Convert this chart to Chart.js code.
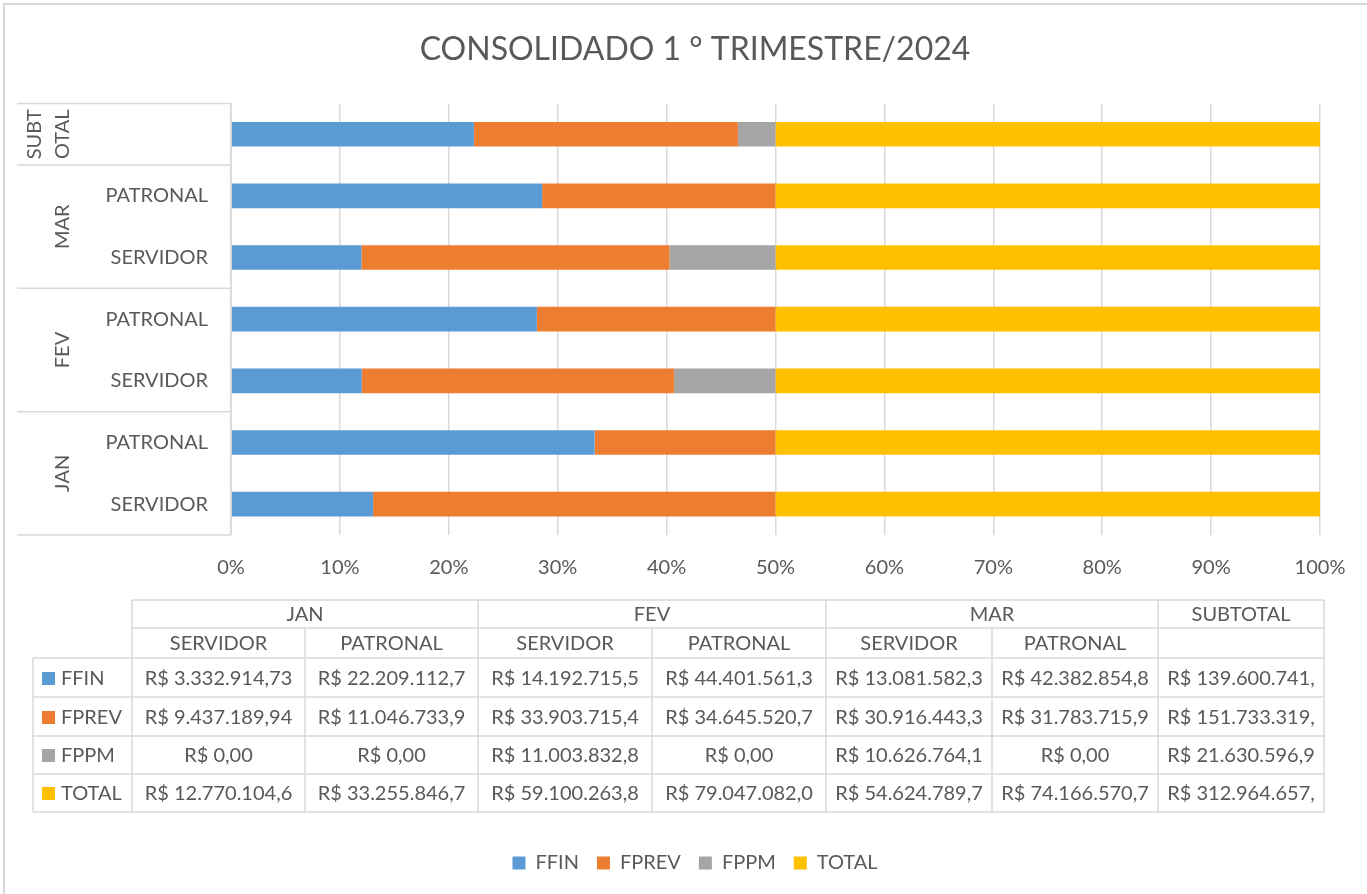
<!DOCTYPE html>
<html>
<head>
<meta charset="utf-8">
<script src="https://cdn.jsdelivr.net/npm/chart.js@4.4.1/dist/chart.umd.min.js"></script>
<style>
  html, body { margin: 0; padding: 0; background: #fff; }
</style>
</head>
<body>
<canvas id="chart" width="1367" height="894"></canvas>
<script>
// data
const months = ['JAN', 'FEV', 'MAR', 'SUBTOTAL'];
const monthSpan = [2, 2, 2, 1];
const subCats = ['SERVIDOR', 'PATRONAL', 'SERVIDOR', 'PATRONAL', 'SERVIDOR', 'PATRONAL', ''];
const ffin  = [3332914.73, 22209112.70, 14192715.50, 44401561.30, 13081582.30, 42382854.80, 139600741.33];
const fprev = [9437189.94, 11046733.90, 33903715.40, 34645520.70, 30916443.30, 31783715.90, 151733319.14];
const fppm  = [0, 0, 11003832.80, 0, 10626764.10, 0, 21630596.90];
const total = [12770104.67, 33255846.70, 59100263.80, 79047082.00, 54624789.70, 74166570.70, 312964657.47];
const seriesNames = ['FFIN', 'FPREV', 'FPPM', 'TOTAL'];
const xTicks = [0, 10, 20, 30, 40, 50, 60, 70, 80, 90, 100];

const colors = ['#5B9BD5', '#ED7D31', '#A5A5A5', '#FFC000'];
const textColor = '#595959';
const lineColor = '#d9d9d9';
const FONT = 'Lato, "Liberation Sans", sans-serif';

const series = [ffin, fprev, fppm, total];
const sums = subCats.map((_, i) => series.reduce((a, s) => a + s[i], 0));
const pct = series.map(s => s.map((v, i) => v / sums[i] * 100));

// table layout (pixels)
const colEdges = [132, 305, 478, 652, 826, 992, 1158, 1324];
const rowEdges = [600, 628, 658, 697, 736, 774, 812];
const labelColLeft = 33;
const padLeft = 70;

function brl(v) {
  const parts = v.toFixed(2).split('.');
  const int = parts[0].replace(/\B(?=(\d{3})+(?!\d))/g, '.');
  return 'R$ ' + int + ',' + parts[1];
}

function hline(ctx, x1, x2, y) {
  ctx.beginPath(); ctx.moveTo(x1, y); ctx.lineTo(x2, y); ctx.stroke();
}
function vline(ctx, x, y1, y2) {
  ctx.beginPath(); ctx.moveTo(x, y1); ctx.lineTo(x, y2); ctx.stroke();
}

const extras = {
  id: 'extras',
  afterDraw(chart) {
    const ctx = chart.ctx;
    const y = chart.scales.y;
    const area = chart.chartArea;
    ctx.save();

    // outer frame
    ctx.strokeStyle = lineColor;
    ctx.lineWidth = 2;
    ctx.strokeRect(4, 4, 1400, 1000);

    // multi level category axis
    ctx.lineWidth = 1.5;
    const px = subCats.map((_, i) => y.getPixelForValue(i));
    const edge = (i) => {
      if (i <= 0) return area.bottom;
      if (i >= subCats.length) return area.top;
      return (px[i - 1] + px[i]) / 2;
    };
    vline(ctx, area.left, area.top, area.bottom);
    let start = 0;
    hline(ctx, 17, area.left, area.bottom);
    ctx.fillStyle = textColor;
    ctx.font = '20px ' + FONT;
    ctx.textAlign = 'center';
    ctx.textBaseline = 'middle';
    months.forEach((m, g) => {
      const end = start + monthSpan[g];
      const yTop = edge(end);
      const yBot = edge(start);
      hline(ctx, 17, area.left, yTop);
      const cy = (yTop + yBot) / 2;
      let lines = [m];
      if (ctx.measureText(m).width > (yBot - yTop) - 8) {
        const h = Math.ceil(m.length / 2);
        lines = [m.slice(0, h), m.slice(h)];
      }
      ctx.save();
      ctx.translate(63, cy);
      ctx.rotate(-Math.PI / 2);
      lines.forEach((t, k) => {
        ctx.fillText(t, 0, (k - (lines.length - 1)) * 28);
      });
      ctx.restore();
      start = end;
    });

    // data table
    ctx.strokeStyle = lineColor;
    ctx.lineWidth = 1.5;
    const right = colEdges[colEdges.length - 1];
    hline(ctx, colEdges[0], right, rowEdges[0]);
    hline(ctx, colEdges[0], right, rowEdges[1]);
    for (let r = 2; r < rowEdges.length; r++) hline(ctx, labelColLeft, right, rowEdges[r]);
    vline(ctx, labelColLeft, rowEdges[2], rowEdges[rowEdges.length - 1]);
    colEdges.forEach((x) => {
      vline(ctx, x, rowEdges[1], rowEdges[rowEdges.length - 1]);
    });
    // header row 1 (month groups)
    let c0 = 0;
    const mid = (a, b) => (a + b) / 2;
    vline(ctx, colEdges[0], rowEdges[0], rowEdges[1]);
    months.forEach((m, g) => {
      const c1 = c0 + monthSpan[g];
      vline(ctx, colEdges[c1], rowEdges[0], rowEdges[1]);
      ctx.fillText(m, mid(colEdges[c0], colEdges[c1]), mid(rowEdges[0], rowEdges[1]) + 1);
      c0 = c1;
    });
    // header row 2
    subCats.forEach((s, c) => {
      ctx.fillText(s, mid(colEdges[c], colEdges[c + 1]), mid(rowEdges[1], rowEdges[2]) + 1);
    });
    // values, clipped to cell like the spreadsheet does
    const maxW = ctx.measureText('R$ 0.000.000,00').width + 3;
    series.forEach((s, r) => {
      const cy = mid(rowEdges[r + 2], rowEdges[r + 3]) + 1;
      ctx.fillStyle = colors[r];
      ctx.fillRect(42, Math.round(cy - 7), 13, 13);
      ctx.fillStyle = textColor;
      ctx.textAlign = 'left';
      ctx.fillText(seriesNames[r], 61, cy);
      ctx.textAlign = 'center';
      s.forEach((v, c) => {
        let t = brl(v);
        while (ctx.measureText(t).width > maxW) t = t.slice(0, -1);
        ctx.fillText(t, mid(colEdges[c], colEdges[c + 1]), cy);
      });
    });
    ctx.restore();
  }
};

Chart.defaults.font.family = FONT;
Chart.defaults.color = textColor;

new Chart(document.getElementById('chart'), {
  type: 'bar',
  data: {
    labels: subCats,
    datasets: seriesNames.map((name, k) => ({
      label: name,
      data: pct[k],
      backgroundColor: colors[k],
      borderWidth: 0
    }))
  },
  options: {
    indexAxis: 'y',
    responsive: false,
    devicePixelRatio: 1,
    animation: false,
    barPercentage: 0.4,
    categoryPercentage: 1,
    layout: { padding: { top: 2, right: 47, bottom: 11, left: padLeft } },
    plugins: {
      title: {
        display: true,
        text: 'CONSOLIDADO 1 ° TRIMESTRE/2024',
        color: textColor,
        font: { size: 32, weight: 'normal' },
        padding: { top: 28, bottom: 35 }
      },
      legend: {
        position: 'bottom',
        labels: {
          boxWidth: 13,
          boxHeight: 13,
          padding: 18,
          color: textColor,
          font: { size: 20 }
        }
      },
      tooltip: { enabled: false }
    },
    scales: {
      x: {
        stacked: true,
        min: 0,
        max: 100,
        afterBuildTicks: (s) => { s.ticks = xTicks.map(v => ({ value: v })); },
        afterFit: (s) => { s.height = 300; },
        ticks: {
          callback: (v) => v + '%',
          font: { size: 20 },
          color: textColor,
          padding: 21,
          maxRotation: 0
        },
        grid: { color: lineColor, lineWidth: 1.5, drawTicks: false },
        border: { display: false }
      },
      y: {
        stacked: true,
        reverse: true,
        afterFit: (s) => { s.width = 231 - padLeft; },
        ticks: {
          font: { size: 20 },
          color: textColor,
          padding: 23
        },
        grid: { display: false, drawTicks: false },
        border: { display: false }
      }
    }
  },
  plugins: [extras]
});
</script>
</body>
</html>
